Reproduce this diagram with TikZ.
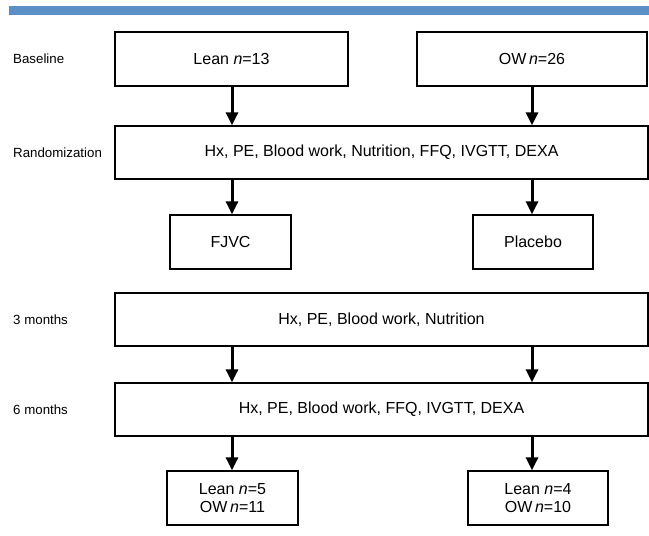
\documentclass[tikz,border=0pt]{standalone}
\usepackage{fontspec}
\setmainfont{Liberation Sans}
\usetikzlibrary{arrows.meta}
\definecolor{barblue}{RGB}{91,143,197}
\begin{document}
\begin{tikzpicture}[x=1bp,y=-1bp,
  every node/.style={font=\fontsize{16bp}{18bp}\selectfont},
  box/.style={draw=black,line width=1.3bp,rectangle,inner sep=0pt,align=center},
  lbl/.style={anchor=west,inner sep=0pt,font=\fontsize{13.3bp}{16bp}\selectfont},
  arr/.style={line width=3bp,-{Triangle[width=12bp,length=13bp]}}]
\useasboundingbox (0,0) rectangle (649,536);
\fill[barblue] (9,6) rectangle (649,15);
\node[box,minimum width=233bp,minimum height=54bp] (lean) at (231.5,59) {Lean \textit{n}=13};
\node[box,minimum width=230bp,minimum height=54bp] (ow) at (532,59) {OW\,\textit{n}=26};
\node[box,minimum width=533bp,minimum height=53bp] (rand) at (381.5,152.5) {Hx, PE, Blood work, Nutrition, FFQ, IVGTT, DEXA};
\node[box,minimum width=121bp,minimum height=54bp] (fjvc) at (230.5,242) {FJVC};
\node[box,minimum width=120bp,minimum height=54bp] (plac) at (533,242) {Placebo};
\node[box,minimum width=533bp,minimum height=53bp] (m3) at (381.5,319.5) {Hx, PE, Blood work, Nutrition};
\node[box,minimum width=533bp,minimum height=53bp] (m6) at (381.5,409.5) {Hx, PE, Blood work, FFQ, IVGTT, DEXA};
\node[box,minimum width=131bp,minimum height=54bp] (fl) at (232.5,498) {Lean \textit{n}=5\\OW\,\textit{n}=11};
\node[box,minimum width=140bp,minimum height=54bp] (fr) at (538,498) {Lean \textit{n}=4\\OW\,\textit{n}=10};
\node[lbl] (lb1) at (13,59) {Baseline};
\node[lbl] (lb2) at (13,152.5) {Randomization};
\node[lbl] (lb3) at (13,319.5) {3 months};
\node[lbl] (lb4) at (13,409.5) {6 months};
\coordinate (L) at (232,0);
\coordinate (R) at (532,0);
\draw[arr] (lean.south -| L) -- (rand.north -| L);
\draw[arr] (ow.south -| R) -- (rand.north -| R);
\draw[arr] (rand.south -| L) -- (fjvc.north -| L);
\draw[arr] (rand.south -| R) -- (plac.north -| R);
\draw[arr] (m3.south -| L) -- (m6.north -| L);
\draw[arr] (m3.south -| R) -- (m6.north -| R);
\draw[arr] (m6.south -| L) -- (fl.north -| L);
\draw[arr] (m6.south -| R) -- (fr.north -| R);
\end{tikzpicture}
\end{document}
